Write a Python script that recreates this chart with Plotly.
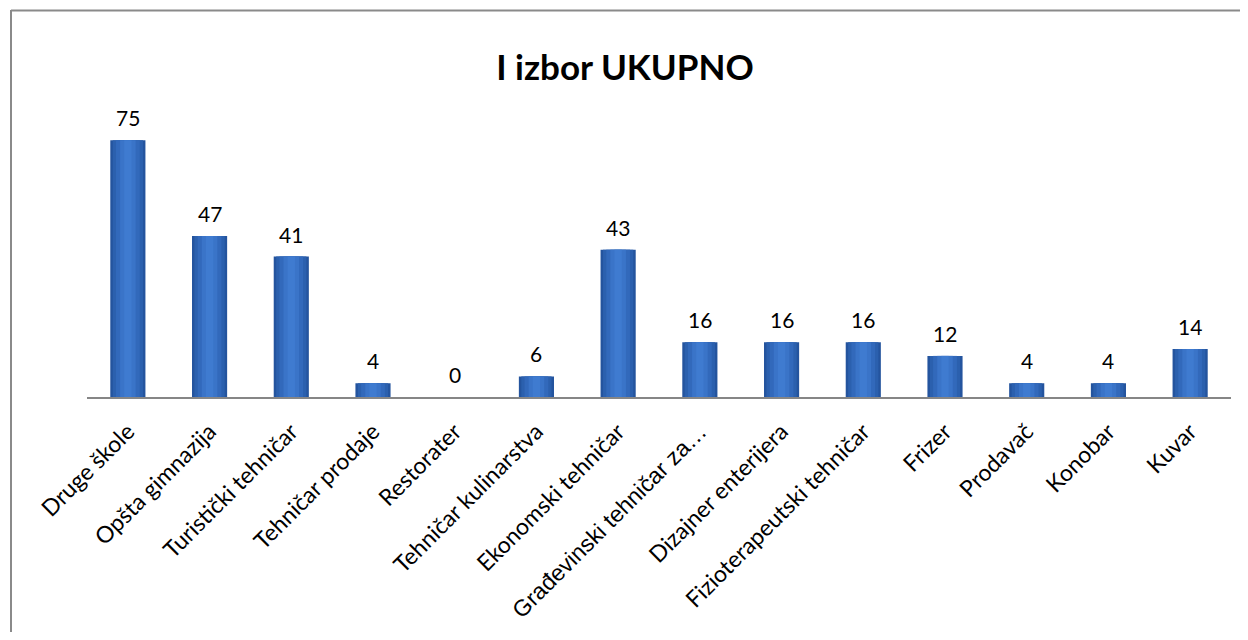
import plotly.graph_objects as go

categories = ["Druge škole", "Opšta gimnazija", "Turistički tehničar", "Tehničar prodaje",
              "Restorater", "Tehničar kulinarstva", "Ekonomski tehničar",
              "Građevinski tehničar za…", "Dizajner enterijera", "Fizioterapeutski tehničar",
              "Frizer", "Prodavač", "Konobar", "Kuvar"]
values = [75, 47, 41, 4, 0, 6, 43, 16, 16, 16, 12, 4, 4, 14]
title_text = "I izbor UKUPNO"

FONT = "Lato"
S = 8  # default page body margin
W, H = 1248 - 2 * S, 640 - 2 * S
L, T = 87 - S, 123 - S
R = W - (1231 - S)
B = H - (397 - S)
pw, ph = W - L - R, H - T - B

fig = go.Figure()
layers = [(0.43, "#24549E"), (0.37, "#2B60AE"), (0.29, "#3269BB"), (0.19, "#3A74C8"), (0.09, "#3F7BD0")]
for w, c in layers:
    fig.add_trace(go.Bar(x=categories, y=values, width=w, marker=dict(color=c, line=dict(width=0)),
                         hoverinfo="skip", showlegend=False))

for cat, v in zip(categories, values):
    fig.add_annotation(x=cat, y=v, text=str(v), showarrow=False, yanchor="bottom",
                       yshift=8, font=dict(family=FONT, size=21, color="#000000"))

def px(xp):
    return (xp - S - L) / pw

def py(yp):
    return (H - B - (yp - S)) / ph

fig.add_shape(type="line", xref="paper", yref="paper", x0=px(11), x1=px(1270), y0=py(10.5), y1=py(10.5),
              line=dict(color="#8A8A8A", width=2))
fig.add_shape(type="line", xref="paper", yref="paper", x0=px(11), x1=px(11), y0=py(10), y1=py(680),
              line=dict(color="#8A8A8A", width=2))

ticktext = [('<span style="font-family:Arial">' + c + '</span>') if c.startswith("Građ") else c
            for c in categories]

fig.update_layout(
    width=W, height=H,
    margin=dict(l=L, r=R, t=T, b=B),
    paper_bgcolor="white", plot_bgcolor="white",
    barmode="overlay",
    title=dict(text="<b>" + title_text + "</b>", x=(625 - S) / W, xanchor="center",
               y=1 - (68 - S) / H, yanchor="middle",
               font=dict(family=FONT, size=35, color="#000000")),
    xaxis=dict(type="category", tickangle=-45, showline=True, linecolor="#868686", linewidth=2,
               ticks="", showgrid=False, tickvals=categories, ticktext=ticktext,
               ticklabelstandoff=10,
               tickfont=dict(family=FONT, size=23, color="#000000")),
    yaxis=dict(range=[0, 80], visible=False, showgrid=False),
)

fig.write_html("out.html")
